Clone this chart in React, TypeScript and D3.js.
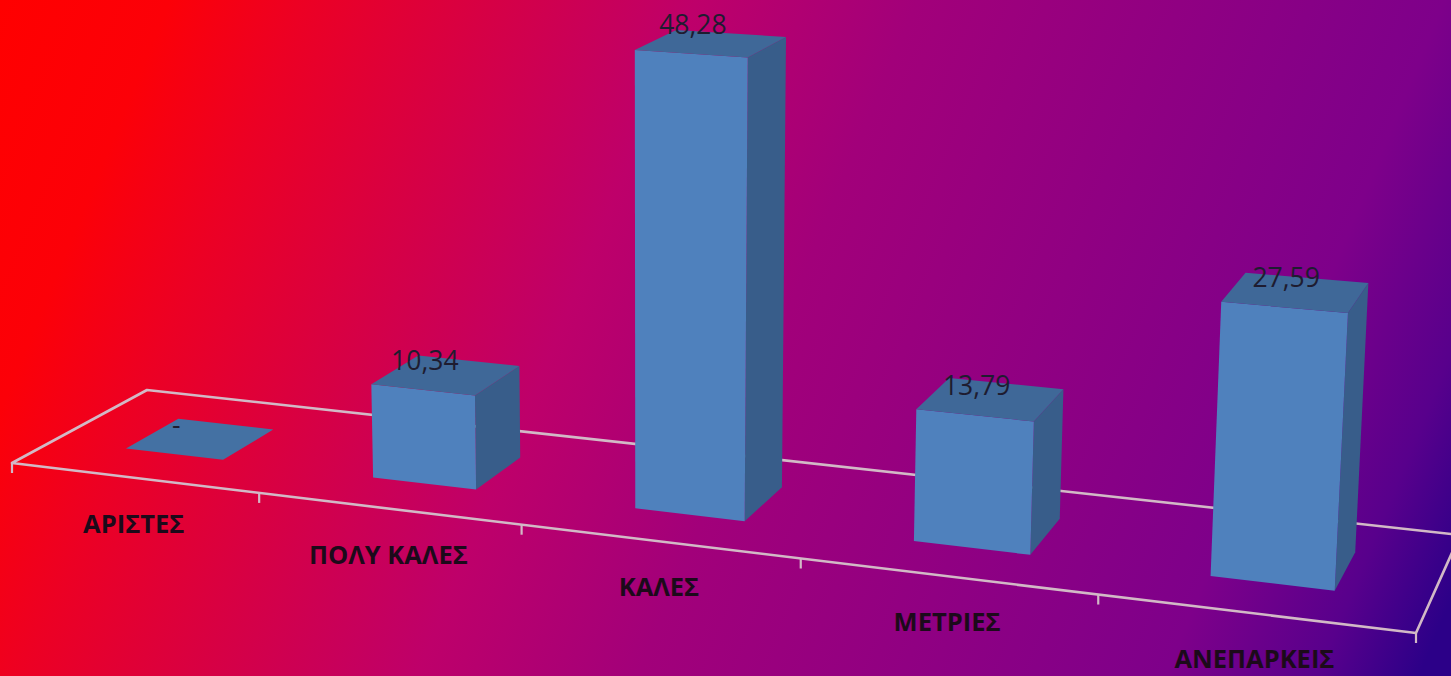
import React from "react";
import * as d3 from "d3";

// ---- data ----
const categories: string[] = ["ΑΡΙΣΤΕΣ", "ΠΟΛΥ ΚΑΛΕΣ", "ΚΑΛΕΣ", "ΜΕΤΡΙΕΣ", "ΑΝΕΠΑΡΚΕΙΣ"];
const values: number[] = [0, 10.34, 48.28, 13.79, 27.59];

// ---- layout ----
const W = 1451;
const H = 676;
const floorFL: [number, number] = [12, 463];
const floorFR: [number, number] = [1416, 633];
const floorBR: [number, number] = [1460, 535];
const floorBL: [number, number] = [147, 390];
const verticalVP: [number, number] = [650, 15000];

function squareToQuad(p0: number[], p1: number[], p2: number[], p3: number[]) {
  const [x0, y0] = p0, [x1, y1] = p1, [x2, y2] = p2, [x3, y3] = p3;
  const dx1 = x1 - x2, dx2 = x3 - x2, dx3 = x0 - x1 + x2 - x3;
  const dy1 = y1 - y2, dy2 = y3 - y2, dy3 = y0 - y1 + y2 - y3;
  const den = dx1 * dy2 - dx2 * dy1;
  const g = (dx3 * dy2 - dx2 * dy3) / den;
  const h = (dx1 * dy3 - dx3 * dy1) / den;
  return {
    a: x1 - x0 + g * x1, b: x3 - x0 + h * x3, c: x0,
    d: y1 - y0 + g * y1, e: y3 - y0 + h * y3, f: y0, g, h,
  };
}
const M = squareToQuad(floorFL, floorFR, floorBR, floorBL);

// project (u along categories, v depth 0=front, k height factor)
function project(u: number, v: number, k: number): [number, number] {
  const w = M.g * u + M.h * v + 1 - k;
  const X = M.a * u + M.b * v + M.c - k * verticalVP[0];
  const Y = M.d * u + M.e * v + M.f - k * verticalVP[1];
  return [X / w, Y / w];
}

const uScale = d3.scaleBand<string>().domain(categories).range([0, 1]).paddingInner(0.6).paddingOuter(0.3);
const hScale = d3.scaleLinear().domain([0, 50]).range([0, 0.030335]);
const depthFront = 0.3;
const depthBack = 0.7;

const fmt = (v: number) => (v === 0 ? "-" : d3.format(".2f")(v).replace(".", ","));

const gradStops: [number, string][] = [
  [0, "rgb(255,0,0)"],
  [0.1, "rgb(252,0,8)"],
  [0.18, "rgb(236,0,36)"],
  [0.41, "rgb(190,0,106)"],
  [0.54, "rgb(162,0,122)"],
  [0.85, "rgb(126,0,138)"],
  [0.94, "rgb(88,0,140)"],
  [1.0, "rgb(44,0,136)"],
];

const line = d3.line();

export default function App() {
  const step = uScale.step();
  const tickUs = d3.range(categories.length + 1).map((i) => i * step);
  const floorPts = [floorFL, floorFR, floorBR, floorBL];
  const lineColor = "#d2b9c6";

  return (
    <svg width={W} height={H} style={{ position: "fixed", left: 0, top: 0, display: "block" }}>
      <defs>
        <linearGradient id="bg" gradientUnits="userSpaceOnUse" x1={0} y1={0} x2={W} y2={600}>
          {gradStops.map(([o, c], i) => (
            <stop key={i} offset={o} stopColor={c} />
          ))}
        </linearGradient>
      </defs>
      <rect x={0} y={0} width={W} height={H} fill="url(#bg)" />

      {/* floor */}
      <path d={line(floorPts as [number, number][])! + "Z"} fill="none" stroke={lineColor} strokeWidth={2.6} strokeLinejoin="round" />
      {tickUs.map((u, i) => {
        const [x, y] = project(u, 0, 0);
        return <line key={i} x1={x} y1={y} x2={x} y2={y + 10} stroke={lineColor} strokeWidth={2.2} />;
      })}

      {/* bars */}
      {categories.map((cat, i) => {
        const u0 = uScale(cat)!;
        const u1 = u0 + uScale.bandwidth();
        const k = hScale(values[i]);
        const front = [project(u0, depthFront, 0), project(u1, depthFront, 0), project(u1, depthFront, k), project(u0, depthFront, k)];
        const side = [project(u1, depthFront, 0), project(u1, depthBack, 0), project(u1, depthBack, k), project(u1, depthFront, k)];
        const top = [project(u0, depthFront, k), project(u1, depthFront, k), project(u1, depthBack, k), project(u0, depthBack, k)];
        return (
          <g key={cat}>
            <path d={line(side)! + "Z"} fill="#385d8a" />
            <path d={line(front)! + "Z"} fill="#4f81bd" />
            <path d={line(top)! + "Z"} fill={values[i] === 0 ? "#4471a3" : "#3f6898"} />
          </g>
        );
      })}

      {/* value labels */}
      {categories.map((cat, i) => {
        const uc = uScale(cat)! + uScale.bandwidth() / 2;
        const [x, y] = project(uc, depthFront, hScale(values[i]));
        return (
          <text key={cat} x={x + 2} y={y - 20} textAnchor="middle" fontFamily="'Open Sans', sans-serif" fontSize={26.5} fill="#1e1c30">
            {fmt(values[i])}
          </text>
        );
      })}

      {/* category labels */}
      {categories.map((cat) => {
        const uc = uScale(cat)! + uScale.bandwidth() / 2;
        const [x, y] = project(uc, 0, 0);
        return (
          <text key={cat} x={x} y={y + 55} textAnchor="middle" fontFamily="'Open Sans', sans-serif" fontWeight={700} fontSize={25.5} fill="#1c0a1a">
            {cat}
          </text>
        );
      })}
    </svg>
  );
}
